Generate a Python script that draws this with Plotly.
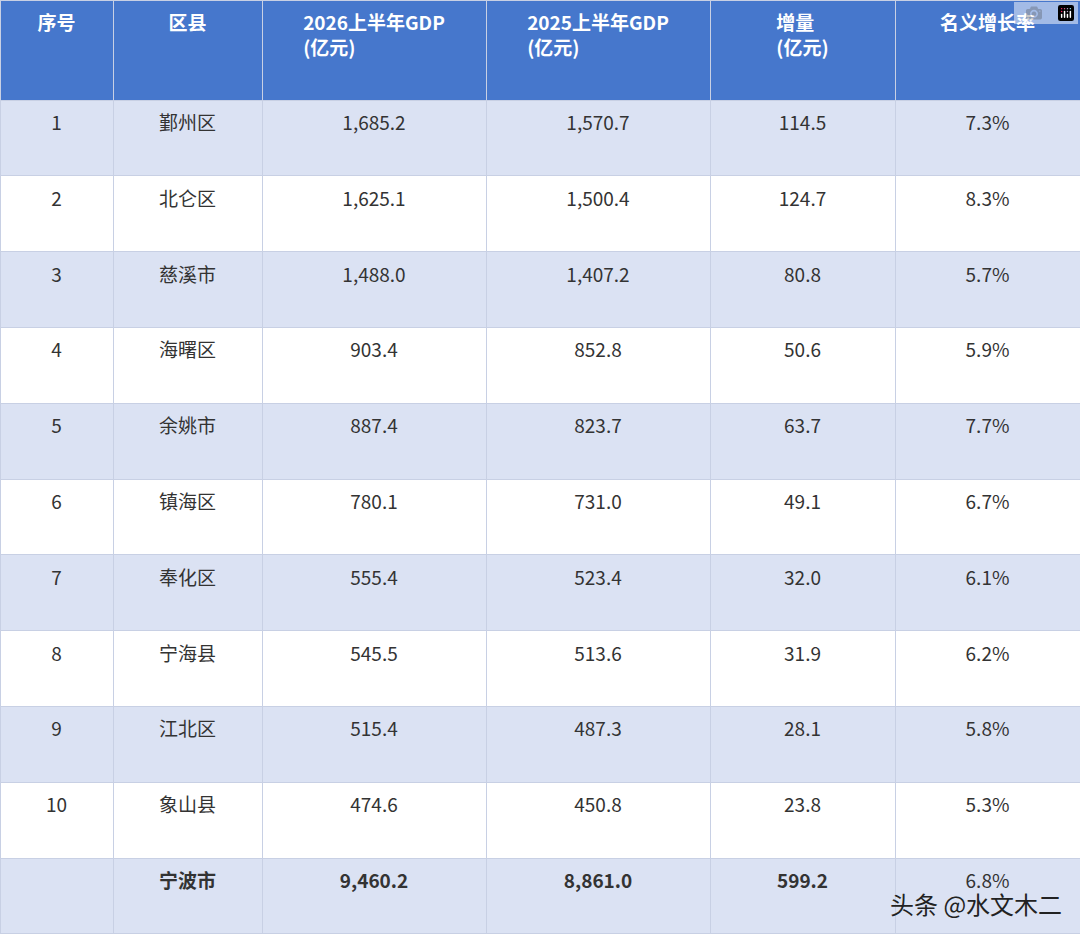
import plotly.graph_objects as go

# 宁波各区县上半年GDP
headers = ['序号', '区县', '2026上半年GDP<br>(亿元)', '2025上半年GDP<br>(亿元)', '增量<br>(亿元)', '名义增长率']
rank = ['1', '2', '3', '4', '5', '6', '7', '8', '9', '10']
county = ['鄞州区', '北仑区', '慈溪市', '海曙区', '余姚市', '镇海区', '奉化区', '宁海县', '江北区', '象山县']
gdp2026 = [1685.2, 1625.1, 1488.0, 903.4, 887.4, 780.1, 555.4, 545.5, 515.4, 474.6]
gdp2025 = [1570.7, 1500.4, 1407.2, 852.8, 823.7, 731.0, 523.4, 513.6, 487.3, 450.8]
increase = [114.5, 124.7, 80.8, 50.6, 63.7, 49.1, 32.0, 31.9, 28.1, 23.8]
growth = ['7.3%', '8.3%', '5.7%', '5.9%', '7.7%', '6.7%', '6.1%', '6.2%', '5.8%', '5.3%']
total = ['', '宁波市', 9460.2, 8861.0, 599.2, '6.8%']


def fmt(v):
    return f'{v:,.1f}'


# leading <br> pushes text down towards the middle of the cell
def mid(s):
    return '<br>' + s


cols = [
    [mid(s) for s in rank + ['']],
    [mid(s) for s in county] + [mid('<b>' + total[1] + '</b>')],
    [mid(fmt(v)) for v in gdp2026] + [mid('<b>' + fmt(total[2]) + '</b>')],
    [mid(fmt(v)) for v in gdp2025] + [mid('<b>' + fmt(total[3]) + '</b>')],
    [mid(fmt(v)) for v in increase] + [mid('<b>' + fmt(total[4]) + '</b>')],
    [mid(s) for s in growth + [total[5]]],
]

head = ['<b>' + h + '</b>' if '<br>' in h else '<br><b>' + h + '</b>' for h in headers]
head = [h.replace('<br>(', '</b><br><b>(') for h in head]

band = ['#dbe2f3' if i % 2 == 0 else '#ffffff' for i in range(11)]

fig = go.Figure(go.Table(
    columnwidth=[113, 149, 224, 224, 185, 185],
    domain=dict(x=[0, 1], y=[0, 1]),
    header=dict(values=head,
                fill_color='#4677cc', line_color='#c8d0e4',
                font=dict(color='white', size=19, family='Noto Sans CJK SC'),
                align='center', height=100),
    cells=dict(values=cols, fill_color=[band] * 6, line_color='#c8d0e4',
               font=dict(color='#333333', size=19, family='Noto Sans CJK SC'),
               align='center', height=75.8),
))

fig.add_annotation(text='头条 @水文木二', x=0.985, y=0.012, xref='paper', yref='paper',
                   xanchor='right', yanchor='bottom', showarrow=False,
                   font=dict(size=24, color='#222222', family='Noto Sans CJK SC'))

fig.update_layout(width=1080, height=934, margin=dict(l=0, r=0, t=0, b=0),
                  paper_bgcolor='white')
fig.write_html('out.html', post_script="document.body.style.margin='0';")
